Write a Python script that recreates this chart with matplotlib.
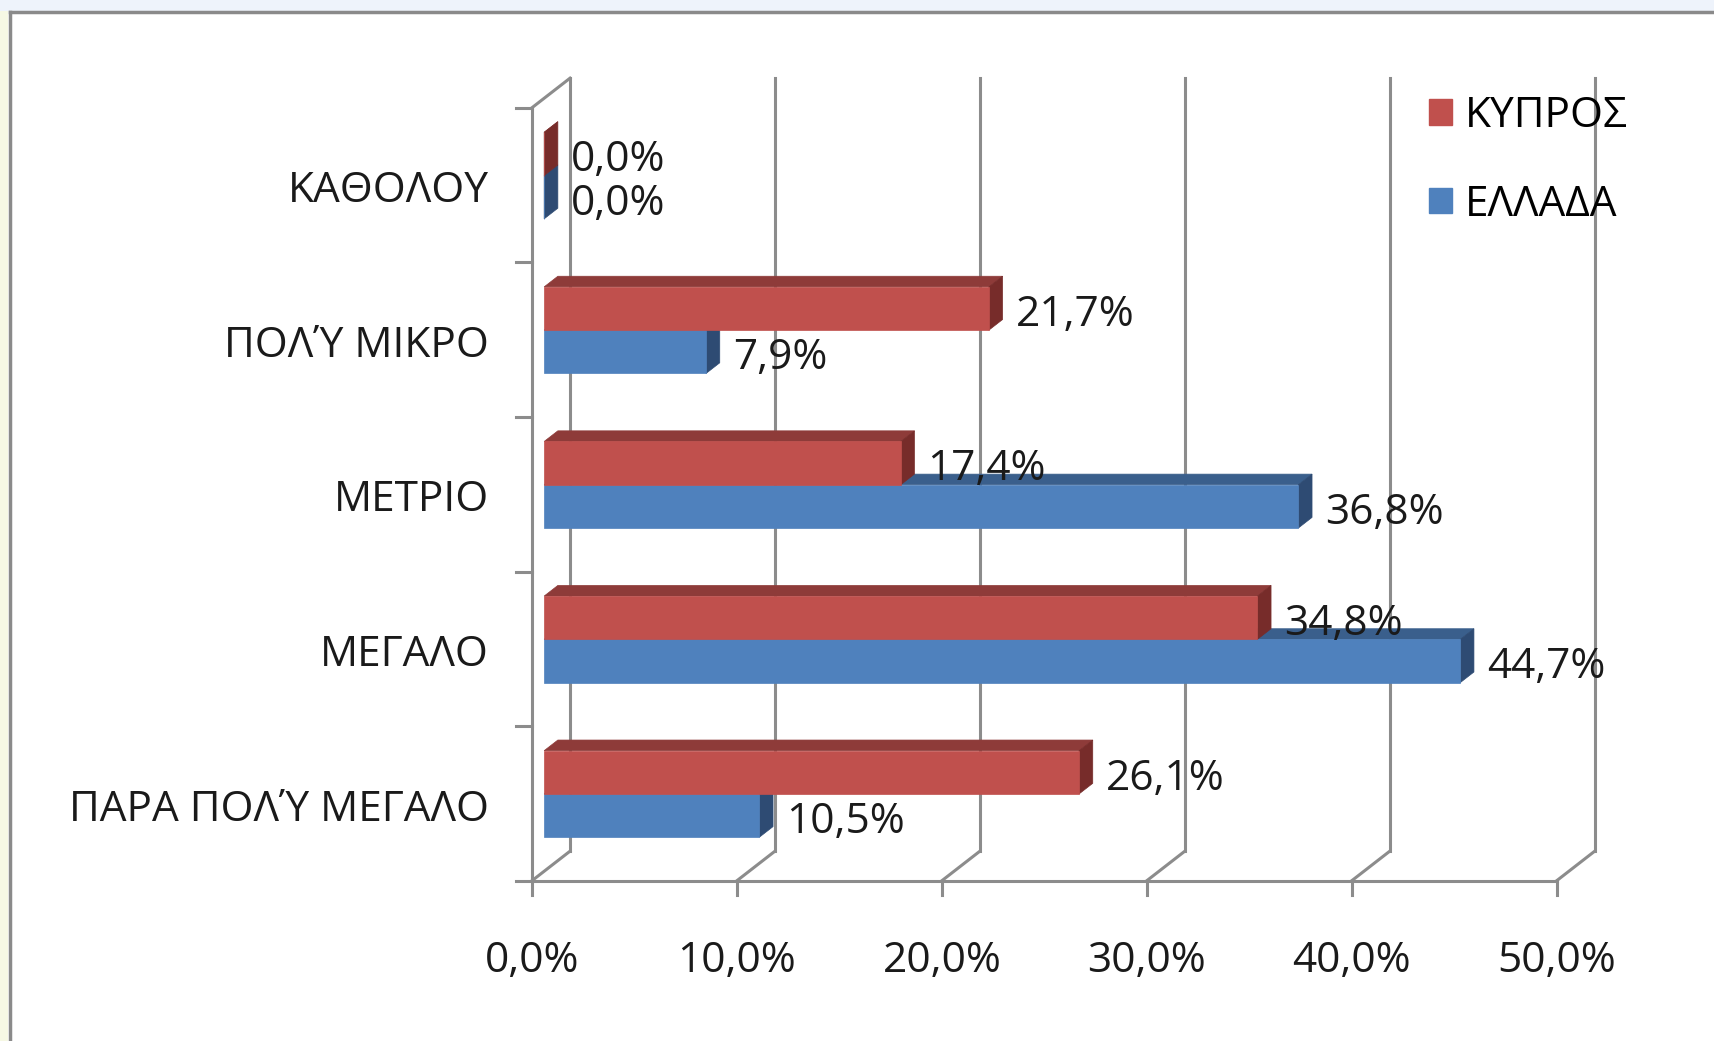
import matplotlib
matplotlib.use('Agg')
import matplotlib.pyplot as plt
from matplotlib.patches import Polygon, Patch, Rectangle
from matplotlib.lines import Line2D

plt.rcParams['font.family'] = ['Open Sans', 'DejaVu Sans']

# data (top to bottom as shown)
categories = ['ΚΑΘΟΛΟΥ', 'ΠΟΛΎ ΜΙΚΡΟ', 'ΜΕΤΡΙΟ', 'ΜΕΓΑΛΟ', 'ΠΑΡΑ ΠΟΛΎ ΜΕΓΑΛΟ']
kypros = [0.0, 21.7, 17.4, 34.8, 26.1]
ellada = [0.0, 7.9, 36.8, 44.7, 10.5]
series_names = ['ΚΥΠΡΟΣ', 'ΕΛΛΑΔΑ']
x_ticks = [0, 10, 20, 30, 40, 50]

RED = ('#C0504D', '#8E3B39', '#772C2A')   # front, top, side
BLUE = ('#4F81BD', '#3A5F8C', '#2E4B73')
GRID = '#8C8C8C'

# pseudo 3d depth offset (data units)
DX, DY = 1.855, 0.191
D1, D2 = 0.32, 0.68
BAR_H = 0.28
FS = 30.5


def proj(x, y, d):
    return (x + d * DX, y + d * DY)


def fmt(v):
    return f'{v:.1f}%'.replace('.', ',')


fig = plt.figure(figsize=(17.14, 10.41), dpi=100)
W, H = 1714, 1041

# surrounding page bits + chart border
fig.add_artist(Rectangle((0, 1 - 11 / H), 1, 11 / H, transform=fig.transFigure,
                         facecolor='#EEF3FB', edgecolor='none'))
fig.add_artist(Rectangle((0, 0), 8 / W, 1 - 11 / H, transform=fig.transFigure,
                         facecolor='#F6F8E4', edgecolor='none'))
fig.add_artist(Line2D([9.5 / W, 1], [1 - 11.5 / H] * 2, transform=fig.transFigure,
                      color='#8A8A8A', lw=2.5))
fig.add_artist(Line2D([9.5 / W] * 2, [0, 1 - 11.5 / H], transform=fig.transFigure,
                      color='#8A8A8A', lw=2.5))

ax = fig.add_axes([532 / W, (H - 880.7) / H, 1024.7 / W, 773 / H])
ax.set_xlim(0, 50)
ax.set_ylim(0, 5)
ax.axis('off')

n = len(categories)
top = n

# back wall vertical gridlines and floor diagonals
for t in x_ticks:
    bx, by = proj(t, 0, 1)
    ax.plot([bx, bx], [by, top + DY], color=GRID, lw=2.2, clip_on=False, zorder=1)
    ax.plot([t, bx], [0, by], color=GRID, lw=2.2, clip_on=False, zorder=1)
    # front tick marks
    ax.plot([t, t], [0, -0.09], color=GRID, lw=2.2, clip_on=False, zorder=1)
    ax.text(t, -0.52, fmt(t), ha='center', va='center', fontsize=FS, color='#1A1A1A')

# front floor line, left axis, top-left diagonal
ax.plot([0, 50], [0, 0], color=GRID, lw=2.2, clip_on=False, zorder=1)
ax.plot([0, 0], [0, top], color=GRID, lw=2.2, clip_on=False, zorder=1)
ax.plot([0, DX], [top, top + DY], color=GRID, lw=2.2, clip_on=False, zorder=1)
for k in range(n + 1):
    ax.plot([0, -0.78], [k, k], color=GRID, lw=2.2, clip_on=False, zorder=1)


def bar3d(v, y0, y1, cols, z):
    front = [proj(0, y0, D1), proj(v, y0, D1), proj(v, y1, D1), proj(0, y1, D1)]
    topf = [proj(0, y1, D1), proj(v, y1, D1), proj(v, y1, D2), proj(0, y1, D2)]
    side = [proj(v, y0, D1), proj(v, y0, D2), proj(v, y1, D2), proj(v, y1, D1)]
    for pts, c in ((topf, cols[1]), (side, cols[2]), (front, cols[0])):
        ax.add_patch(Polygon(pts, closed=True, facecolor=c, edgecolor=c, lw=0.5,
                             clip_on=False, zorder=z))


for k, cat in enumerate(categories):
    c = n - 1 - k + 0.5
    # ellada below, kypros above
    bar3d(ellada[k], c - BAR_H, c, BLUE, 3)
    bar3d(kypros[k], c, c + BAR_H, RED, 4)
    ax.text(ellada[k] + 1.9, c - BAR_H / 2 + 0.02, fmt(ellada[k]), ha='left', va='center',
            fontsize=FS, color='#1A1A1A', zorder=6)
    ax.text(kypros[k] + 1.9, c + BAR_H / 2 + 0.02, fmt(kypros[k]), ha='left', va='center',
            fontsize=FS, color='#1A1A1A', zorder=6)
    ax.text(-2.1, c - 0.04, cat, ha='right', va='center', fontsize=FS, color='#1A1A1A')

handles = [Patch(facecolor=RED[0], edgecolor=RED[0]), Patch(facecolor=BLUE[0], edgecolor=BLUE[0])]
fig.legend(handles, series_names, loc='upper left', bbox_to_anchor=(1429 / W, 1 - 95 / H),
           frameon=False, fontsize=FS, handlelength=0.55, handleheight=0.55,
           handletextpad=0.3, labelspacing=1.1, borderpad=0, borderaxespad=0)

fig.savefig('out.png', dpi=100, facecolor='white')
